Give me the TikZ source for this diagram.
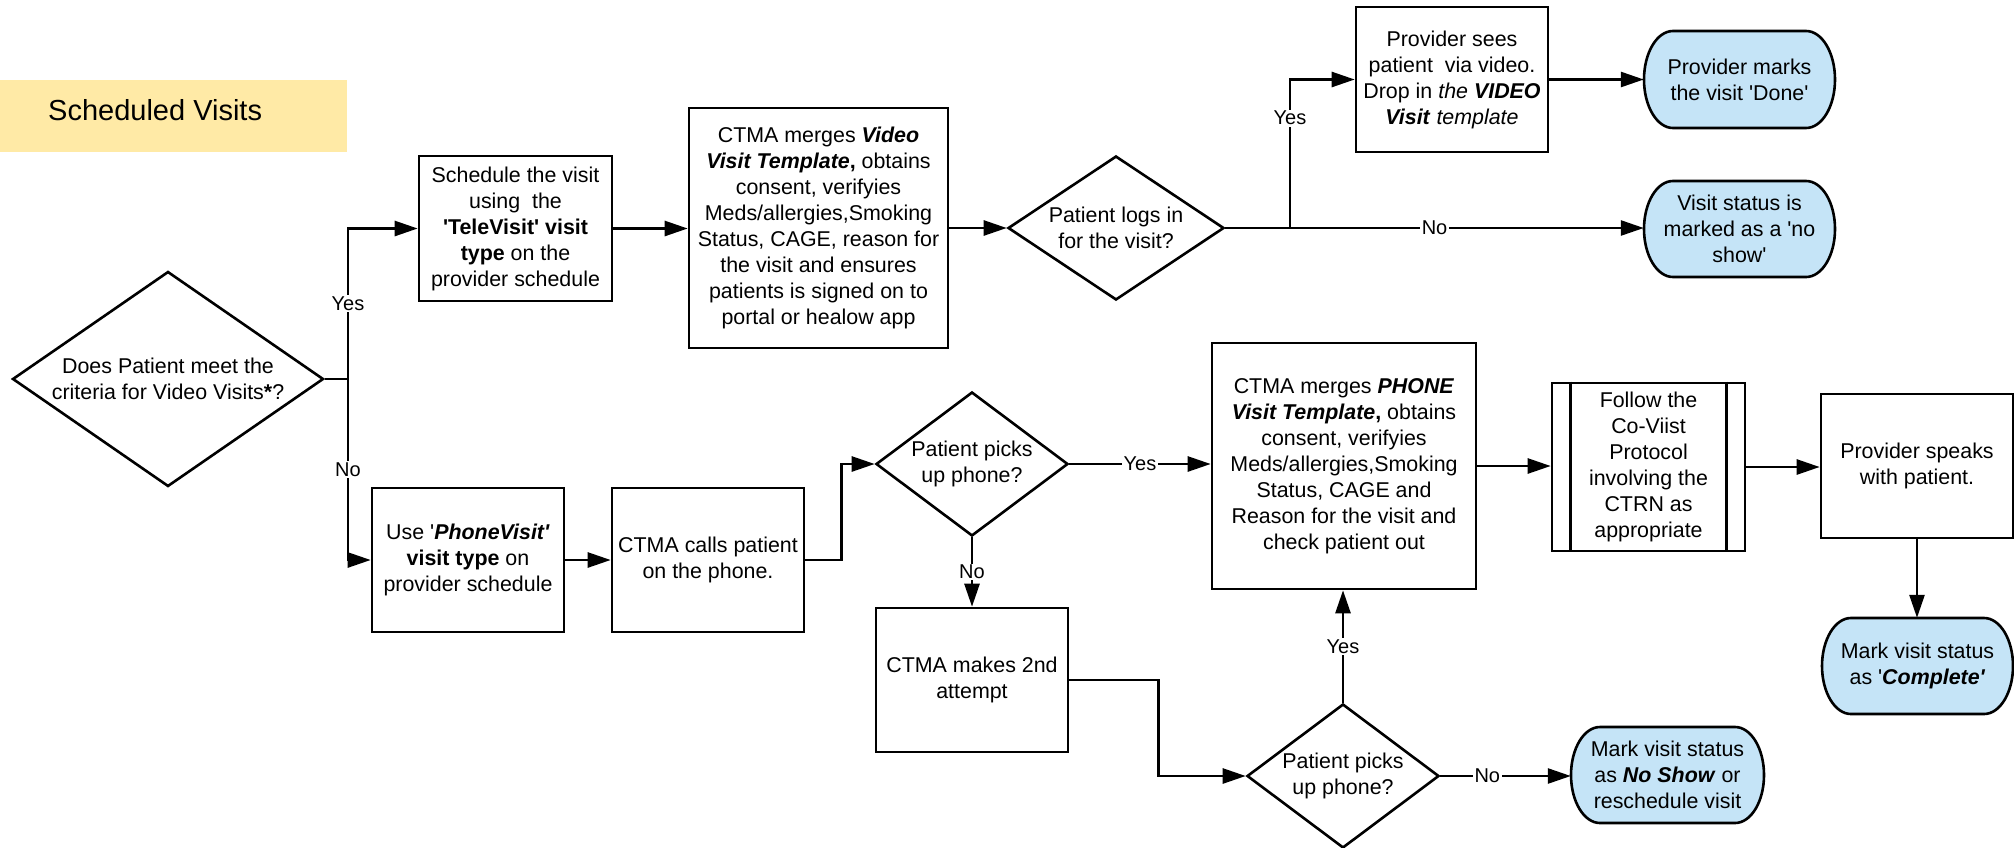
\documentclass[tikz,border=0pt]{standalone}
\usepackage{fontspec}
\setmainfont{Liberation Sans}[Ligatures=TeXOff]
\usetikzlibrary{arrows.meta,shapes.geometric}
\definecolor{termblue}{RGB}{197,228,247}
\definecolor{titleyellow}{RGB}{255,234,166}
\newcommand\bfit[1]{\textbf{\textit{#1}}}
\newcommand\termpath[5]{%
  \path[termshape] (#1+29,#2) -- (#3-29,#2)
    arc[start angle=90,end angle=-90,x radius=29pt,y radius=#5pt]
    -- (#1+29,#4)
    arc[start angle=270,end angle=90,x radius=29pt,y radius=#5pt] -- cycle;}
\tikzset{
  base/.style={font=\fontsize{21.4}{26}\selectfont, align=center, inner sep=0pt},
  box/.style={base, draw, rectangle, line width=2.6pt},
  dia/.style={draw, diamond, line width=2.6pt, inner sep=0pt},
  txt/.style={base},
  termshape/.style={draw, fill=termblue, line width=2.6pt},
  conn/.style={line width=2.6pt},
  arr/.style={conn, -{Triangle[length=23pt,width=15pt]}},
  lbl/.style={font=\fontsize{20}{24}\selectfont, fill=white, inner sep=1.5pt},
}
\begin{document}
\begin{tikzpicture}[x=1pt,y=-1pt]
\useasboundingbox (0,0) rectangle (2014,847);

% title band
\fill[titleyellow] (0,80) rectangle (347,152);
\node[anchor=west, inner sep=0pt, font=\fontsize{29}{34}\selectfont] (title) at (48,110.5) {Scheduled Visits};

% decision 1
\node[dia, minimum width=311pt, minimum height=215pt] (d1) at (168,379) {};
\node[txt] (d1t) at (d1.center) {Does Patient meet the\\criteria for Video Visits\textbf{*}?};

% upper row
\node[box, minimum width=193pt, minimum height=145pt] (s1) at (515.5,228.5)
  {Schedule the visit\\using\ \ the\\\textbf{'TeleVisit' visit}\\\textbf{type} on the\\provider schedule};
\node[box, minimum width=259pt, minimum height=240pt] (v1) at (818.5,228)
  {CTMA merges \bfit{Video}\\\bfit{Visit Template}\textbf{,} obtains\\consent, verifyies\\Meds/allergies,Smoking\\Status, CAGE, reason for\\the visit and ensures\\patients is signed on to\\portal or healow app};
\node[dia, minimum width=216pt, minimum height=144pt] (d2) at (1116,228) {};
\node[txt] (d2t) at (d2.center) {Patient logs in\\for the visit?};
\node[box, minimum width=192pt, minimum height=145pt] (pv) at (1452,79.5)
  {Provider sees\\patient\ \ via video.\\Drop in \textit{the} \bfit{VIDEO}\\\bfit{Visit} \textit{template}};

% terminals
\termpath{1644}{31}{1835}{128}{48.5}
\node[txt, minimum width=191pt, minimum height=97pt] (t1) at (1739.5,79.5) {Provider marks\\the visit 'Done'};
\termpath{1644}{181}{1835}{277}{48}
\node[txt, minimum width=191pt, minimum height=96pt] (t2) at (1739.5,229) {Visit status is\\marked as a 'no\\show'};
\termpath{1822}{618}{2013}{714}{48}
\node[txt, minimum width=191pt, minimum height=96pt] (t3) at (1917.5,666) {Mark visit status\\as '\bfit{Complete'}};
\termpath{1571}{727}{1764}{823}{48}
\node[txt, minimum width=193pt, minimum height=96pt] (t4) at (1667.5,775) {Mark visit status\\as \bfit{No Show} or\\reschedule visit};

% lower row
\node[box, minimum width=192pt, minimum height=144pt] (p1) at (468,560)
  {Use '\bfit{PhoneVisit'}\\\textbf{visit type} on\\provider schedule};
\node[box, minimum width=192pt, minimum height=144pt] (p2) at (708,560)
  {CTMA calls patient\\on the phone.};
\node[dia, minimum width=192pt, minimum height=144pt] (d3) at (972,464) {};
\node[txt] (d3t) at (d3.center) {Patient picks\\up phone?};
\node[box, minimum width=192pt, minimum height=144pt] (q) at (972,680)
  {CTMA makes 2nd\\attempt};
\node[box, minimum width=264pt, minimum height=246pt] (x1) at (1344,466)
  {CTMA merges \bfit{PHONE}\\\bfit{Visit Template}\textbf{,} obtains\\consent, verifyies\\Meds/allergies,Smoking\\Status, CAGE and\\Reason for the visit and\\check patient out};
\node[box, minimum width=193pt, minimum height=168pt] (cv) at (1648.5,467)
  {Follow the\\Co-Viist\\Protocol\\involving the\\CTRN as\\appropriate};
\draw[conn] ([xshift=20pt]cv.north west) -- ([xshift=20pt]cv.south west);
\draw[conn] ([xshift=-20pt]cv.north east) -- ([xshift=-20pt]cv.south east);
\node[box, minimum width=192pt, minimum height=144pt] (ps) at (1917,466)
  {Provider speaks\\with patient.};
\node[dia, minimum width=192pt, minimum height=144pt] (d4) at (1343,776) {};
\node[txt] (d4t) at (d4.center) {Patient picks\\up phone?};

% connectors
\coordinate (j1) at (348,379);
\draw[conn] (d1.east) -- (j1);
\draw[arr] (j1) |- node[lbl,pos=0.25]{Yes} (s1.west);
\draw[arr] (j1) |- node[lbl,pos=0.25]{No} (p1.west);
\draw[arr] (s1.east) -- (s1.east -| v1.west);
\draw[arr] (v1.east) -- (d2.west);
\coordinate (j2) at (1290,228);
\draw[arr] (d2.east) -- node[lbl]{No} (d2.east -| t2.west);
\draw[arr] (j2) |- node[lbl,pos=0.37]{Yes} (pv.west);
\draw[arr] (pv.east) -- (pv.east -| t1.west);
\draw[arr] (p1.east) -- (p2.west);
\draw[arr] (p2.east) -- ++(36,0) |- (d3.west);
\draw[arr] (d3.east) -- node[lbl]{Yes} (d3.east -| x1.west);
\draw[arr] (d3.south) -- node[lbl]{No} (q.north);
\draw[arr] (q.east) -- ++(89,0) |- (d4.west);
\draw[arr] (d4.north) -- node[lbl]{Yes} (d4.north |- x1.south);
\draw[arr] (d4.east) -- node[lbl,pos=0.36]{No} (d4.east -| t4.west);
\draw[arr] (x1.east) -- (x1.east -| cv.west);
\draw[arr] (cv.east) -- (cv.east -| ps.west);
\draw[arr] (ps.south) -- (ps.south |- t3.north);
\end{tikzpicture}
\end{document}
